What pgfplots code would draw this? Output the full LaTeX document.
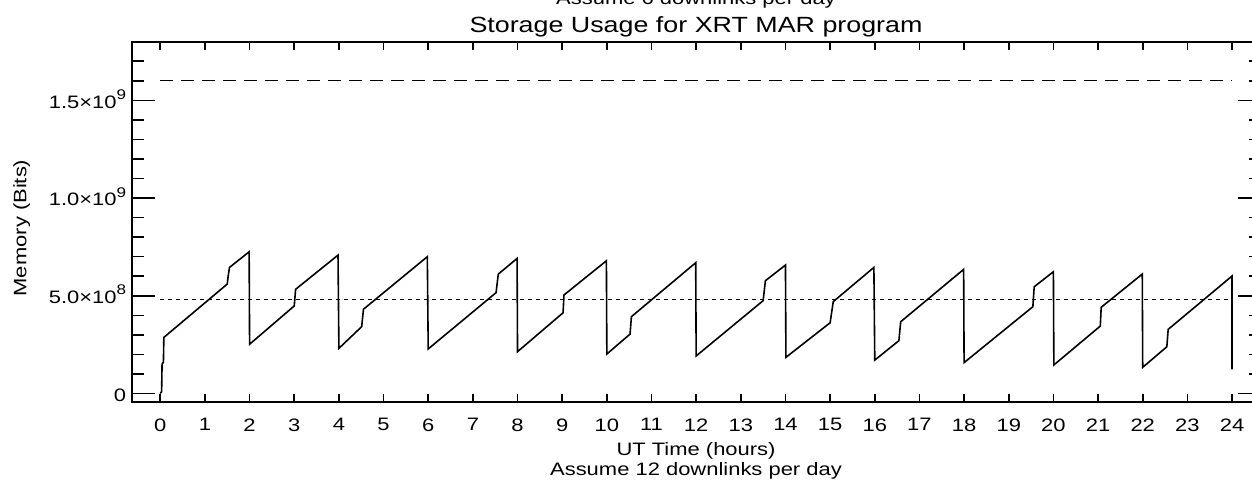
\documentclass[border=0pt]{standalone}
\usepackage{fontspec}
\setmainfont{Liberation Sans}[FakeStretch=1.22]
\usepackage{pgfplots}
\pgfplotsset{compat=1.18}
\newcommand{\sci}[2]{#1×10\raisebox{4.3pt}{\fontsize{7}{7}\selectfont #2}}
\begin{document}
\begin{tikzpicture}
\useasboundingbox (0,0) rectangle (626pt,243pt);
\begin{axis}[
  at={(65.85pt,42pt)}, anchor=south west,
  scale only axis, width=564.45pt, height=180.15pt,
  xmin=-0.64, xmax=24.64, ymin=-0.435e8, ymax=18.0e8,
  axis line style={line width=0.9pt},
  tick style={line width=0.8pt, black},
  tick align=inside,
  major tick length=11.5pt, minor tick length=6pt,
  xtick style={/pgfplots/major tick length=4pt},
  xtick={0,1,...,24},
  minor x tick num=0,
  ytick={0,5e8,1e9,1.5e9},
  yticklabels={0,\sci{5.0}{8},\sci{1.0}{9},\sci{1.5}{9}},
  minor ytick={1e8,2e8,3e8,4e8,6e8,7e8,8e8,9e8,1.1e9,1.2e9,1.3e9,1.4e9,1.6e9,1.7e9},
  scaled y ticks=false,
  /pgf/number format/assume math mode=true,
  xticklabel style={font=\fontsize{9}{9}\selectfont, anchor=north, inner sep=0pt, yshift=-8.1pt},
  yticklabel style={font=\fontsize{9}{9}\selectfont, anchor=base east, inner sep=0pt, xshift=-2.6pt, yshift=-3.9pt},
  clip=false,
]
\addplot[black, line width=0.7pt, dash pattern=on 6.5pt off 4pt] coordinates {(0,1.6e9) (24,1.6e9)};
\addplot[black, line width=0.7pt, dash pattern=on 2pt off 2pt] coordinates {(0,4.8e8) (24,4.8e8)};
\addplot[black, line width=0.8pt, line join=miter] coordinates {
(0,0) (0.03,0.1e8) (0.04,1.5e8) (0.07,1.6e8) (0.08,2.87e8)
(1.50,5.60e8) (1.52,6.0e8) (1.55,6.45e8) (1.99,7.25e8)
(2.0,2.52e8) (3.0,4.48e8) (3.03,5.33e8) (3.98,7.08e8)
(4.0,2.31e8) (4.51,3.42e8) (4.55,4.31e8) (5.98,7.0e8)
(6.0,2.28e8) (7.52,5.16e8) (7.55,5.75e8) (7.57,6.11e8) (7.99,6.91e8)
(8.0,2.14e8) (9.02,4.13e8) (9.04,5.04e8) (9.99,6.79e8)
(10.0,2.02e8) (10.52,3.04e8) (10.55,3.93e8) (11.99,6.69e8)
(12.0,1.92e8) (13.5,4.75e8) (13.55,5.77e8) (14.0,6.57e8)
(14.01,1.85e8) (15.0,3.62e8) (15.07,4.70e8) (15.98,6.45e8)
(16.0,1.71e8) (16.54,2.70e8) (16.58,3.67e8) (17.99,6.35e8)
(18.0,1.58e8) (19.54,4.44e8) (19.57,5.46e8) (20.0,6.23e8)
(20.01,1.46e8) (21.05,3.45e8) (21.07,4.41e8) (21.99,6.11e8)
(22.0,1.34e8) (22.54,2.39e8) (22.57,3.28e8) (24.0,6.01e8)
(24.0,1.24e8)
};
\end{axis}
\node[anchor=base, inner sep=0pt, font=\fontsize{11}{11}\selectfont] at (348pt,226.7pt) {Storage Usage for XRT MAR program};
\node[anchor=base, inner sep=0pt, font=\fontsize{9}{9}\selectfont] at (348pt,240.5pt) {Assume 6 downlinks per day};
\node[anchor=base, inner sep=0pt, font=\fontsize{9}{9}\selectfont] at (348pt,15pt) {UT Time (hours)};
\node[anchor=base, inner sep=0pt, font=\fontsize{9}{9}\selectfont] at (348pt,5.3pt) {Assume 12 downlinks per day};
\node[rotate=90, inner sep=0pt, font=\fontsize{9}{9}\selectfont] at (10.9pt,129pt) {Memory (Bits)};
\end{tikzpicture}
\end{document}
